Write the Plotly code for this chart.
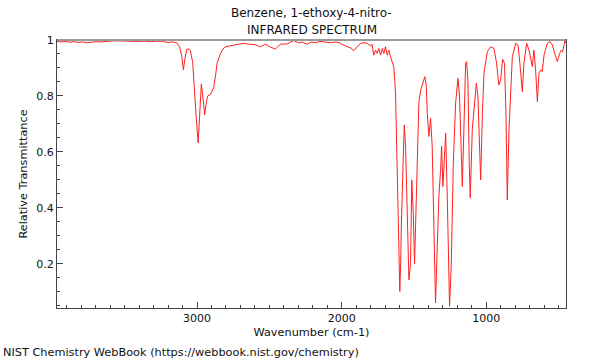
import plotly.graph_objects as go

wavenumber = [3968, 3940, 3910, 3880, 3850, 3820, 3790, 3760, 3730, 3700, 3670, 3640, 3600, 3560,
              3520, 3480, 3440, 3400, 3360, 3320, 3280, 3240, 3200, 3170, 3140, 3120, 3105, 3094,
              3085, 3071, 3055, 3046, 3030, 3015, 3005, 2992, 2980, 2970, 2960, 2947, 2935, 2926,
              2907, 2885, 2870, 2861, 2838, 2820, 2804, 2760, 2723, 2679, 2640, 2600, 2561, 2527,
              2492, 2458, 2423, 2377, 2331, 2298, 2270, 2240, 2210, 2180, 2150, 2120, 2077, 2040,
              2008, 1988, 1960, 1940, 1916, 1895, 1870, 1845, 1823, 1800, 1790, 1778, 1766, 1754,
              1743, 1731, 1719, 1708, 1697, 1685, 1674, 1662, 1650, 1640, 1632, 1627, 1617, 1605,
              1598, 1592, 1588, 1574, 1567, 1558, 1546, 1535, 1528, 1524, 1515, 1505, 1496, 1490,
              1473, 1466, 1454, 1436, 1425, 1415, 1408, 1397, 1385, 1374, 1362, 1351, 1339, 1328,
              1316, 1309, 1300, 1290, 1281, 1270, 1261, 1254, 1242, 1228, 1212, 1196, 1185, 1173,
              1166, 1155, 1143, 1136, 1127, 1118, 1111, 1097, 1086, 1069, 1058, 1046, 1039, 1027,
              1016, 993, 970, 947, 929, 913, 901, 887, 874, 864, 855, 843, 832, 820, 797, 781, 768,
              751, 740, 721, 705, 682, 671, 659, 647, 636, 624, 613, 601, 578, 560, 543, 527, 509,
              493, 481, 472, 463, 456, 450]

transmittance = [0.995, 0.993, 0.995, 0.992, 0.994, 0.991, 0.993, 0.990, 0.992, 0.994, 0.993, 0.995,
                 0.996, 0.997, 0.996, 0.995, 0.996, 0.995, 0.996, 0.994, 0.996, 0.995, 0.991, 0.993,
                 0.990, 0.975, 0.940, 0.893, 0.930, 0.967, 0.968, 0.962, 0.920, 0.820, 0.720, 0.632,
                 0.750, 0.843, 0.800, 0.732, 0.780, 0.800, 0.805, 0.830, 0.880, 0.917, 0.952, 0.968,
                 0.976, 0.980, 0.983, 0.988, 0.985, 0.983, 0.976, 0.985, 0.974, 0.968, 0.985, 0.986,
                 0.998, 0.990, 0.992, 0.985, 0.993, 0.990, 0.995, 0.992, 0.990, 0.993, 0.988, 0.982,
                 0.975, 0.972, 0.962, 0.975, 0.988, 0.990, 0.988, 0.979, 0.985, 0.946, 0.964, 0.952,
                 0.970, 0.946, 0.970, 0.952, 0.976, 0.946, 0.964, 0.940, 0.917, 0.905, 0.850, 0.800,
                 0.560, 0.250, 0.101, 0.200, 0.320, 0.583, 0.696, 0.620, 0.320, 0.143, 0.180, 0.200,
                 0.500, 0.380, 0.200, 0.320, 0.680, 0.780, 0.820, 0.851, 0.869, 0.839, 0.738, 0.655,
                 0.720, 0.620, 0.320, 0.060, 0.260, 0.440, 0.536, 0.620, 0.476, 0.560, 0.667, 0.440,
                 0.180, 0.048, 0.200, 0.560, 0.775, 0.863, 0.800, 0.560, 0.476, 0.680, 0.917, 0.923,
                 0.857, 0.560, 0.435, 0.680, 0.738, 0.845, 0.800, 0.583, 0.500, 0.738, 0.881, 0.958,
                 0.976, 0.970, 0.917, 0.839, 0.857, 0.931, 0.917, 0.738, 0.429, 0.680, 0.833, 0.940,
                 0.988, 0.982, 0.917, 0.815, 0.917, 0.988, 0.964, 0.905, 0.964, 0.893, 0.780, 0.881,
                 0.893, 0.887, 0.946, 0.988, 0.994, 0.982, 0.952, 0.923, 0.952, 0.964, 0.958, 0.982,
                 1.000, 0.988]

title_lines = ["Benzene, 1-ethoxy-4-nitro-", "INFRARED SPECTRUM"]
x_tickvals = [1000, 2000, 3000]
y_tickvals = [0.2, 0.4, 0.6, 0.8, 1.0]
y_ticktext = ["0.2", "0.4", "0.6", "0.8", "1"]

FONT = "DejaVu Sans"

fig = go.Figure()
fig.add_trace(go.Scatter(x=wavenumber, y=transmittance, mode="lines",
                         line=dict(color="#ff2020", width=1), showlegend=False,
                         hoverinfo="skip"))

fig.update_layout(
    width=600, height=360,
    margin=dict(l=57, r=34, t=40, b=52),
    paper_bgcolor="white", plot_bgcolor="white",
    font=dict(family=FONT, size=11.3, color="#111"),
    xaxis=dict(range=[3968, 449], tickvals=x_tickvals, ticks="inside", ticklen=6,
               tickcolor="#444", showline=True, linecolor="#444", linewidth=1, mirror=True,
               showgrid=False, zeroline=False,
               minor=dict(dtick=100, tick0=0, ticks="inside", ticklen=3, tickcolor="#444",
                          showgrid=False),
               title=dict(text="Wavenumber (cm-1)", font=dict(size=11.3), standoff=3),
               tickfont=dict(size=11)),
    yaxis=dict(range=[0.042, 1.0], tickvals=y_tickvals, ticktext=y_ticktext, ticks="inside",
               ticklen=6, tickcolor="#444", showline=True, linecolor="#444", linewidth=1,
               mirror=True, showgrid=False, zeroline=False,
               minor=dict(dtick=0.05, tick0=0, ticks="inside", ticklen=3, tickcolor="#444",
                          showgrid=False),
               title=dict(text="Relative Transmittance", font=dict(size=11.3), standoff=6),
               tickfont=dict(size=11)),
    shapes=[dict(type="line", xref="paper", yref="paper", x0=0, x1=1, y0=1, y1=1,
                 line=dict(color="#9a9a9a", width=2))],
    annotations=[
        dict(text=title_lines[0], xref="paper", yref="paper", x=0.5, y=1, yshift=27,
             showarrow=False, font=dict(size=12), xanchor="center", yanchor="middle"),
        dict(text=title_lines[1], xref="paper", yref="paper", x=0.5, y=1, yshift=10,
             showarrow=False, font=dict(size=12), xanchor="center", yanchor="middle"),
        dict(text="NIST Chemistry WebBook (https://webbook.nist.gov/chemistry)", xref="paper",
             yref="paper", x=0, xshift=-56, y=0, yshift=-44, showarrow=False,
             font=dict(size=11.3), xanchor="left", yanchor="middle"),
    ],
)

fig.write_html("out.html", config={"displayModeBar": False},
               post_script="document.body.style.margin='0';")
